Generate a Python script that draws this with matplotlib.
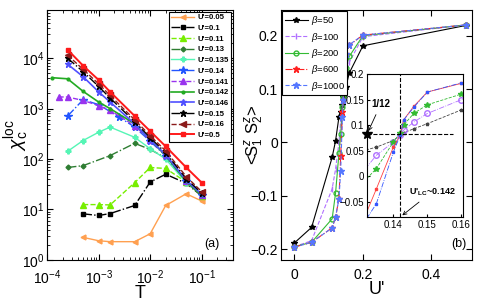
import matplotlib
matplotlib.use('Agg')
import matplotlib.pyplot as plt

plt.rcParams['font.family'] = ['Liberation Sans', 'DejaVu Sans']
plt.rcParams['mathtext.fontset'] = 'custom'
plt.rcParams['mathtext.rm'] = 'Liberation Sans'
plt.rcParams['mathtext.it'] = 'Liberation Sans:italic'
plt.rcParams['mathtext.bf'] = 'Liberation Sans:bold'

# ---- panel (a): local charge susceptibility vs temperature ----
T_low = [5e-4, 1e-3, 1.67e-3, 5e-3, 1e-2, 2e-2, 5e-2, 0.1]
T_013 = [2.5e-4, 5e-4, 1.67e-3, 5e-3, 1e-2, 2e-2, 5e-2, 0.1]
T_014 = [2.5e-4, 5e-4, 1e-3, 2.5e-3, 5e-3, 1e-2, 2e-2, 5e-2, 0.1]
T_0141 = [1.67e-4, 2.5e-4, 5e-4, 1e-3, 1.67e-3, 5e-3, 1e-2, 2e-2, 5e-2, 0.1]
T_0142 = [1.25e-4, 2.5e-4, 5e-4, 1e-3, 1.67e-3, 5e-3, 1e-2, 2e-2, 5e-2, 0.1]
T_full = [2.5e-4, 5e-4, 1e-3, 1.67e-3, 5e-3, 1e-2, 2e-2, 5e-2, 0.1]

chi_005 = [2.8, 2.4, 2.3, 2.3, 3.3, 12, 20.5, 14.7]
chi_010 = [8.2, 7.6, 8.3, 12, 35, 50, 33, 18.5]
chi_011 = [12.5, 12.5, 12.3, 34, 68, 65, 35, 18.6]
chi_013 = [68, 74, 117, 205, 155, 105, 35, 19]
chi_0135 = [142, 233, 340, 430, 270, 160, 100, 34, 20]
chi_014 = [710, 1500, 1200, 680, 430, 225, 115, 36, 19]
chi_0141 = [1700, 1700, 1450, 1150, 920, 460, 235, 118, 36, 19]
chi_0142 = [4100, 3900, 2200, 1350, 1000, 500, 240, 118, 36, 19]
chi_0146 = [7600, 4300, 2150, 1350, 500, 240, 122, 38, 20]
chi_015 = [10000, 5400, 2750, 1620, 550, 265, 133, 41, 21]
chi_016 = [11500, 6000, 3100, 1820, 600, 290, 145, 45, 22.5]
chi_05 = [14700, 7100, 3700, 2150, 715, 357, 178, 68, 34]

# ---- panel (b): spin correlation vs U' ----
U_vals = [0, 0.05, 0.11, 0.12, 0.13, 0.135, 0.14, 0.142, 0.143, 0.146, 0.15, 0.16, 0.2, 0.5]
sz_b50 = [-0.188, -0.159, -0.028, 0.003, 0.048, 0.057, 0.070, 0.080, 0.085, 0.093, 0.103, 0.130, 0.181, 0.219]
sz_b100 = [-0.195, -0.184, -0.087, -0.050, 0.000, 0.041, 0.067, 0.080, 0.090, 0.106, 0.123, 0.150, 0.198, 0.220]
sz_b200 = [-0.195, -0.187, -0.143, -0.095, -0.020, 0.015, 0.067, 0.085, 0.100, 0.123, 0.140, 0.161, 0.200, 0.220]
sz_b600 = [-0.196, -0.187, -0.160, -0.140, -0.105, -0.025, 0.057, 0.080, 0.110, 0.137, 0.165, 0.182, 0.201, 0.220]
sz_b1000 = [-0.196, -0.187, -0.160, -0.140, -0.105, -0.054, 0.047, 0.080, 0.110, 0.135, 0.165, 0.183, 0.201, 0.220]

fig = plt.figure(figsize=(4.85, 3.04), dpi=100)

# panel (a)
ax1 = fig.add_axes([0.097, 0.145, 0.383, 0.822])
ms = 3.5
ax1.plot(T_low, chi_005, '-', color='#ffa050', marker='<', ms=ms, lw=1, label="U'=0.05")
ax1.plot(T_low, chi_010, '-.', color='black', marker='s', ms=3, lw=1, label="U'=0.1")
ax1.plot(T_low, chi_011, '--', color='#77ee00', marker='^', ms=ms + 1, lw=1, label="U'=0.11")
ax1.plot(T_013, chi_013, '-.', color='#2e7d32', marker='D', ms=2.5, lw=1, label="U'=0.13")
ax1.plot(T_full, chi_0135, '-', color='#55f5b5', marker='P', ms=ms, lw=1, label="U'=0.135")
ax1.plot(T_014, chi_014, '-.', color='#2255ff', marker='*', ms=ms + 2, lw=1, label="U'=0.14")
ax1.plot(T_0141, chi_0141, '--', color='#9933ee', marker='^', ms=ms + 1, lw=1, label="U'=0.141")
ax1.plot(T_0142, chi_0142, '-', color='#22aa22', marker='o', ms=2, lw=1.2, label="U'=0.142")
ax1.plot(T_full, chi_0146, '-', color='#5050ff', marker='*', ms=ms + 1, lw=1.2, label="U'=0.146")
ax1.plot(T_full, chi_015, '-.', color='black', marker='*', ms=ms + 1, lw=1, label="U'=0.15")
ax1.plot(T_full, chi_016, '--', color='#8b1a1a', marker='<', ms=ms + 1, lw=1, label="U'=0.16")
ax1.plot(T_full, chi_05, '-', color='#ff1a1a', marker='s', ms=ms, lw=1.4, label="U'=0.5")

ax1.set_xscale('log')
ax1.set_yscale('log')
ax1.set_xlim(1e-4, 0.4)
ax1.set_ylim(1, 9e4)
ax1.set_xticks([1e-4, 1e-3, 1e-2, 1e-1])
ax1.set_yticks([1, 10, 100, 1000, 10000])
ax1.tick_params(which='both', direction='in', top=True, right=True, labelsize=10, pad=2)
ax1.tick_params(axis='x', which='major', pad=6)
ax1.tick_params(which='major', length=4)
ax1.tick_params(which='minor', length=2)
ax1.set_xlabel('T', fontsize=13, labelpad=-1)
ax1.set_ylabel(r'$\chi_{\rm c}^{\rm loc}$', fontsize=14)
ax1.yaxis.set_label_coords(-0.085, 0.5)
ax1.text(0.93, 0.04, '(a)', transform=ax1.transAxes, ha='right', va='bottom', fontsize=9)
leg1 = ax1.legend(loc='upper right', prop={'weight': 'bold', 'size': 5.6},
                  handlelength=3, labelspacing=0.42, borderpad=0.3, handletextpad=0.4,
                  fancybox=False, edgecolor='black', framealpha=1, borderaxespad=0.2)
leg1.get_frame().set_linewidth(0.8)

# panel (b)
ax2 = fig.add_axes([0.579, 0.145, 0.395, 0.822])
ax2.plot(U_vals, sz_b50, '-', color='black', marker='*', ms=4, lw=0.8, label=r'$\beta$=50')
ax2.plot(U_vals, sz_b100, '--', color='#b070ff', marker='|', ms=4, lw=0.8, label=r'$\beta$=100')
ax2.plot(U_vals, sz_b200, '-', color='#33bb33', marker='o', mfc='none', ms=3.5, lw=0.8, label=r'$\beta$=200')
ax2.plot(U_vals, sz_b600, '-.', color='#ff2020', marker='*', ms=5, lw=0.8, label=r'$\beta$=600')
ax2.plot(U_vals, sz_b1000, '--', color='#5577ff', marker='*', ms=5, lw=0.8, label=r'$\beta$=1000')

ax2.set_xlim(-0.04, 0.52)
ax2.set_ylim(-0.22, 0.248)
ax2.set_xticks([0, 0.2, 0.4])
ax2.set_xticklabels(['0', '0.2', '0.4'])
ax2.set_yticks([-0.2, -0.1, 0, 0.1, 0.2])
ax2.set_yticklabels(['\u22120.2', '\u22120.1', '0', '0.1', '0.2'])
ax2.tick_params(direction='in', top=True, right=True, labelsize=10, length=4, pad=2)
ax2.tick_params(axis='x', pad=6)
ax2.set_xlabel("U'", fontsize=13, labelpad=-1)
ax2.set_ylabel(r'<S$_1^z$ S$_2^z$>', fontsize=12)
ax2.yaxis.set_label_coords(-0.075, 0.5)
ax2.text(0.97, 0.04, '(b)', transform=ax2.transAxes, ha='right', va='bottom', fontsize=9)
leg2 = ax2.legend(loc='upper left', fontsize=6.8, handlelength=2.4, labelspacing=0.35,
                  borderpad=0.3, handletextpad=0.3, fancybox=False, edgecolor='black',
                  framealpha=1, borderaxespad=0.15)
leg2.get_frame().set_linewidth(0.8)

# inset
ax3 = fig.add_axes([0.757, 0.286, 0.197, 0.470])
ax3.plot(U_vals, sz_b50, '--', color='#444444', marker='*', ms=2.5, lw=0.6)
ax3.plot(U_vals, sz_b100, '-.', color='#b070ff', marker='o', mfc='none', ms=4, lw=0.6)
ax3.plot(U_vals, sz_b200, '--', color='#33bb33', marker='*', ms=4, lw=0.6)
ax3.plot(U_vals, sz_b600, '-', color='#ff4040', marker='s', ms=1.5, lw=0.6)
ax3.plot(U_vals, sz_b1000, '-.', color='#3355ff', marker='s', ms=1.5, lw=0.6)
ax3.axvline(0.142, color='black', ls='--', lw=0.8)
ax3.plot([0.1323, 0.1575], [1 / 12, 1 / 12], '--', color='black', lw=0.8)
ax3.plot([0.1323], [1 / 12], '*', color='black', ms=7, clip_on=False)
ax3.set_xlim(0.1323, 0.1604)
ax3.set_ylim(-0.08, 0.2)
ax3.set_xticks([0.14, 0.15, 0.16])
ax3.set_xticklabels(['0.14', '0.15', '0.16'])
ax3.set_yticks([-0.05, 0, 0.05, 0.1, 0.15, 0.2])
ax3.set_yticklabels(['\u22120.05', '0', '0.05', '0.1', '0.15', '0.2'])
ax3.tick_params(direction='in', labelsize=7, length=2.5, pad=2)
ax3.annotate('1/12', xy=(0.1323, 1 / 12), xytext=(0.1335, 0.135), fontsize=7, fontweight='bold',
             arrowprops=dict(arrowstyle='->', lw=0.6, color='black'))
ax3.annotate(r"U'$_{\mathbf{LC}}$~0.142", xy=(0.142, -0.08), xytext=(0.1445, -0.035),
             fontsize=6.5, fontweight='bold',
             arrowprops=dict(arrowstyle='->', lw=0.6, color='black'))

fig.savefig('out.png', dpi=100)
